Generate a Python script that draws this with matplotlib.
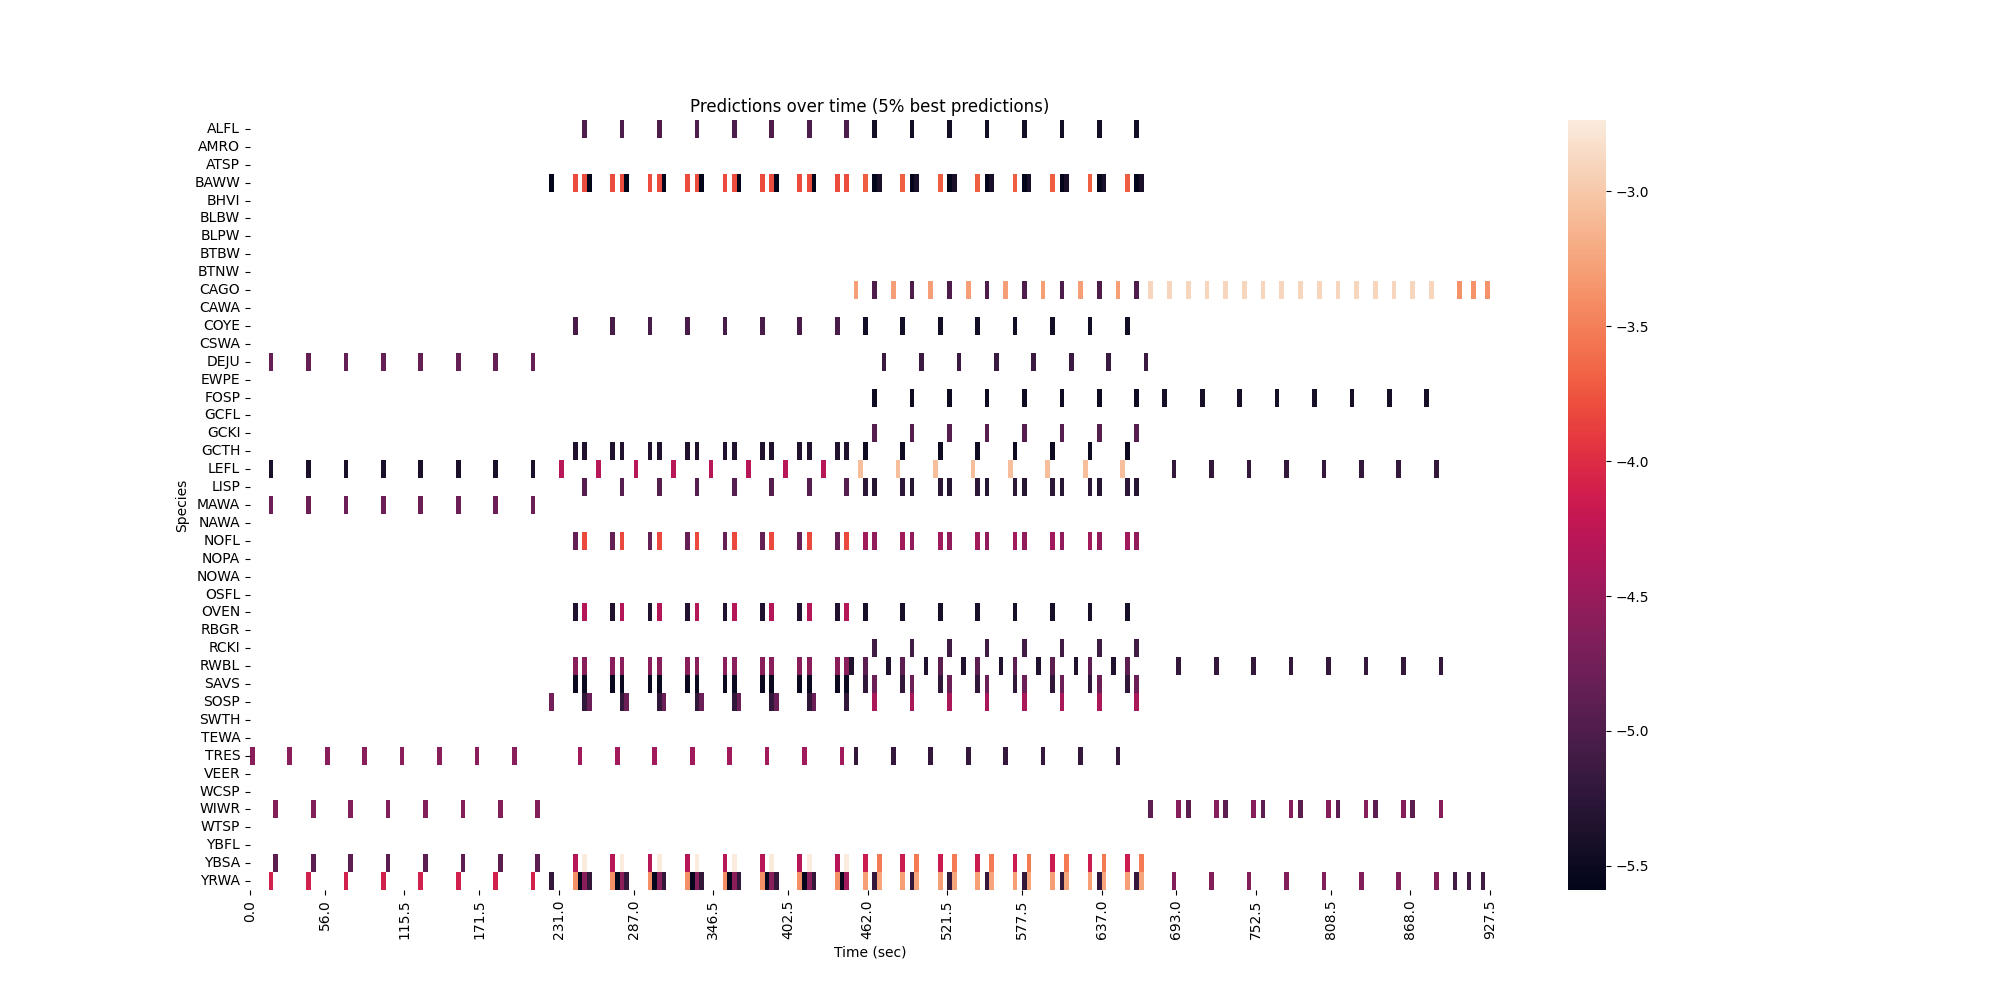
import numpy as np
import pandas as pd
import matplotlib
matplotlib.use("Agg")
import matplotlib.pyplot as plt
import seaborn as sns

# one column per 3.5 s prediction window
STEP = 3.5
N_WINDOWS = 265

species = ["ALFL", "AMRO", "ATSP", "BAWW", "BHVI", "BLBW", "BLPW", "BTBW", "BTNW",
           "CAGO", "CAWA", "COYE", "CSWA", "DEJU", "EWPE", "FOSP", "GCFL", "GCKI",
           "GCTH", "LEFL", "LISP", "MAWA", "NAWA", "NOFL", "NOPA", "NOWA", "OSFL",
           "OVEN", "RBGR", "RCKI", "RWBL", "SAVS", "SOSP", "SWTH", "TEWA", "TRES",
           "VEER", "WCSP", "WIWR", "WTSP", "YBFL", "YBSA", "YRWA"]

# log score -> window indices where it was among the 5% best
alfl = {-5.0: [71, 79, 87, 95, 103, 111, 119, 127],
        -5.45: [133, 141, 149, 157, 165, 173, 181, 189]}
baww = {-5.59: [64, 72, 80, 88, 96, 104, 112, 120, 133, 141, 149, 157, 165, 173, 181, 189],
        -3.8: [69, 71, 77, 79, 85, 87, 93, 95, 101, 103, 109, 111, 117, 119, 125, 127],
        -3.7: [131, 139, 147, 155, 163, 171, 179, 187],
        -5.4: [134, 142, 150, 158, 166, 174, 182, 190]}
cago = {-3.3: [129, 137, 145, 153, 161, 169, 177, 185],
        -5.0: [133, 141, 149, 157, 165, 173, 181, 189],
        -2.9: [192, 196, 200, 204, 208, 212, 216, 220, 224, 228, 232, 236, 240, 244, 248, 252],
        -3.38: [258, 261, 264]}
coye = {-5.05: [69, 77, 85, 93, 101, 109, 117, 125],
        -5.45: [131, 139, 147, 155, 163, 171, 179, 187]}
deju = {-4.85: [4, 12, 20, 28, 36, 44, 52, 60],
        -5.15: [135, 143, 151, 159, 167, 175, 183, 191]}
fosp = {-5.5: [133, 141, 149, 157, 165, 173, 181, 189],
        -5.42: [195, 203, 211, 219, 227, 235, 243, 251]}
gcki = {-4.95: [133, 141, 149, 157, 165, 173, 181, 189]}
gcth = {-5.35: [69, 71, 77, 79, 85, 87, 93, 95, 101, 103, 109, 111, 117, 119, 125, 127],
        -5.5: [131, 139, 147, 155, 163, 171, 179, 187]}
lefl = {-5.4: [4, 12, 20, 28, 36, 44, 52, 60],
        -4.3: [66, 74, 82, 90, 98, 106, 114, 122],
        -3.08: [130, 138, 146, 154, 162, 170, 178, 186],
        -5.2: [197, 205, 213, 221, 229, 237, 245, 253]}
lisp = {-4.95: [71, 79, 87, 95, 103, 111, 119, 127],
        -5.25: [131, 139, 147, 155, 163, 171, 179, 187],
        -5.3: [133, 141, 149, 157, 165, 173, 181, 189]}
mawa = {-4.8: [4, 12, 20, 28, 36, 44, 52, 60]}
nofl = {-4.85: [69, 77, 85, 93, 101, 109, 117, 125],
        -3.82: [71, 79, 87, 95, 103, 111, 119, 127],
        -4.45: [131, 139, 147, 155, 163, 171, 179, 187],
        -4.55: [133, 141, 149, 157, 165, 173, 181, 189]}
oven = {-5.35: [69, 77, 85, 93, 101, 109, 117, 125],
        -4.32: [71, 79, 87, 95, 103, 111, 119, 127],
        -5.42: [131, 139, 147, 155, 163, 171, 179, 187]}
rcki = {-5.1: [133, 141, 149, 157, 165, 173, 181, 189]}
rwbl = {-4.6: [69, 71, 77, 79, 85, 87, 93, 95, 101, 103, 109, 111, 117, 119, 125, 127],
        -5.35: [128, 136, 144, 152, 160, 168, 176, 184],
        -4.9: [131, 139, 147, 155, 163, 171, 179, 187],
        -5.2: [198, 206, 214, 222, 230, 238, 246, 254]}
savs = {-5.52: [69, 71, 77, 79, 85, 87, 93, 95, 101, 103, 109, 111, 117, 119, 125, 127],
        -5.22: [131, 139, 147, 155, 163, 171, 179, 187],
        -4.8: [133, 141, 149, 157, 165, 173, 181, 189]}
sosp = {-4.75: [64],
        -5.22: [71, 79, 87, 95, 103, 111, 119, 127],
        -4.8: [72, 80, 88, 96, 104, 112, 120],
        -4.38: [133, 141, 149, 157, 165, 173, 181, 189]}
tres = {-4.6: [0, 8, 16, 24, 32, 40, 48, 56],
        -4.45: [70, 78, 86, 94, 102, 110, 118, 126],
        -5.2: [129, 137, 145, 153, 161, 169, 177, 185]}
wiwr = {-4.65: [5, 13, 21, 29, 37, 45, 53, 61],
        -4.9: [192, 200, 208, 216, 224, 232, 240, 248],
        -4.62: [198, 206, 214, 222, 230, 238, 246, 254]}
ybsa = {-4.9: [5, 13, 21, 29, 37, 45, 53, 61],
        -4.3: [69, 77, 85, 93, 101, 109, 117, 125],
        -2.735: [71, 79, 87, 95, 103, 111, 119, 127],
        -4.16: [131, 139, 147, 155, 163, 171, 179, 187],
        -3.53: [134, 142, 150, 158, 166, 174, 182, 190]}
yrwa = {-4.1: [4, 12, 20, 28, 36, 44, 52, 60],
        -5.2: [64, 72, 80, 88, 96, 104, 112, 120, 133, 141, 149, 157, 165, 173, 181, 189],
        -3.4: [69, 77, 85, 93, 101, 109, 117, 125],
        -5.55: [70, 78, 86, 94, 102, 110, 118, 126],
        -4.6: [71, 79, 87, 95, 103, 111, 119],
        -4.45: [127],
        -3.3: [131, 139, 147, 155, 163, 171, 179, 187],
        -3.25: [134, 142, 150, 158, 166, 174, 182, 190],
        -4.65: [197, 205, 213, 221, 229, 237, 245, 253],
        -5.1: [257, 260, 263]}

x_tick_sec = [0.0, 56.0, 115.5, 171.5, 231.0, 287.0, 346.5, 402.5, 462.0,
              521.5, 577.5, 637.0, 693.0, 752.5, 808.5, 868.0, 927.5]

scores = {"ALFL": alfl, "BAWW": baww, "CAGO": cago, "COYE": coye, "DEJU": deju,
          "FOSP": fosp, "GCKI": gcki, "GCTH": gcth, "LEFL": lefl, "LISP": lisp,
          "MAWA": mawa, "NOFL": nofl, "OVEN": oven, "RCKI": rcki, "RWBL": rwbl,
          "SAVS": savs, "SOSP": sosp, "TRES": tres, "WIWR": wiwr, "YBSA": ybsa,
          "YRWA": yrwa}

# Build the species x time matrix, NaN where nothing was predicted
grid = np.full((len(species), N_WINDOWS), np.nan)
for i, sp in enumerate(species):
    for val, cols in scores.get(sp, {}).items():
        grid[i, cols] = val

df = pd.DataFrame(grid, index=species, columns=np.arange(N_WINDOWS) * STEP)

fig, ax = plt.subplots(figsize=(20, 10), dpi=100)
sns.heatmap(df, ax=ax, xticklabels=False, yticklabels=species)
ax.set_xticks([t / STEP for t in x_tick_sec])
ax.set_xticklabels([f"{t:.1f}" for t in x_tick_sec], rotation=90)
ax.set_yticklabels(species, rotation=0)
ax.set_title("Predictions over time (5% best predictions)")
ax.set_xlabel("Time (sec)")
ax.set_ylabel("Species")

fig.savefig("out.png", dpi=100)
